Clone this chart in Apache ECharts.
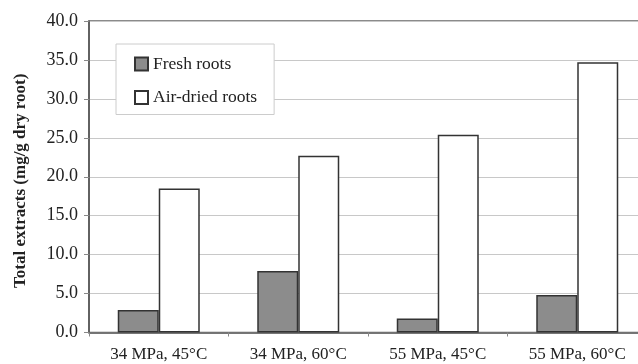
<!DOCTYPE html>
<html>
<head>
<meta charset="utf-8">
<script src="https://cdn.jsdelivr.net/npm/echarts@6/dist/echarts.min.js"></script>
<style>
html,body{margin:0;padding:0;background:#fff;}
#chart{width:638px;height:364px;}
</style>
</head>
<body>
<div id="chart"></div>
<script>
const categories = ['34 MPa, 45°C', '34 MPa, 60°C', '55 MPa, 45°C', '55 MPa, 60°C'];
const freshRoots = [2.9, 7.9, 1.8, 4.8];
const airDriedRoots = [18.5, 22.7, 25.4, 34.7];
const seriesNames = ['Fresh roots', 'Air-dried roots'];
const yAxisTitle = 'Total extracts (mg/g dry root)';

const font = '"Liberation Serif", "Times New Roman", serif';
const chart = echarts.init(document.getElementById('chart'), null, {renderer: 'canvas'});
chart.setOption({
  animation: false,
  backgroundColor: '#fff',
  textStyle: {fontFamily: font, color: '#222'},
  grid: {
    left: 89, top: 21, width: 558, height: 311.5,
    outerBoundsMode: 'none',
    containLabel: false,
    show: true, borderColor: '#666', borderWidth: 1.5, backgroundColor: 'transparent'
  },
  legend: {
    orient: 'vertical',
    left: 116, top: 44,
    padding: [11, 17, 8, 18],
    itemGap: 15.5,
    itemWidth: 13, itemHeight: 13,
    borderColor: '#ccc', borderWidth: 1,
    backgroundColor: '#fff',
    icon: 'rect',
    textStyle: {fontFamily: font, fontSize: 17.5, color: '#222'},
    data: seriesNames
  },
  xAxis: {
    type: 'category',
    data: categories,
    axisLine: {lineStyle: {color: '#555', width: 1.5}},
    axisTick: {show: true, length: 4, lineStyle: {color: '#888'}},
    axisLabel: {fontFamily: font, fontSize: 17, color: '#222', margin: 14}
  },
  yAxis: {
    type: 'value',
    min: 0, max: 40, interval: 5,
    name: yAxisTitle,
    nameLocation: 'middle',
    nameGap: 60,
    nameTextStyle: {fontFamily: font, fontSize: 17, fontWeight: 'bold', color: '#222', padding: [0, 8, 0, 0]},
    axisLine: {show: true, lineStyle: {color: '#555', width: 1.5}},
    axisTick: {show: true, length: 5, lineStyle: {color: '#888'}},
    axisLabel: {fontFamily: font, fontSize: 18, color: '#222', margin: 11,
      formatter: v => v.toFixed(1)},
    splitLine: {show: true, lineStyle: {color: '#c8c8c8', width: 1}}
  },
  series: [
    {
      name: seriesNames[0], type: 'bar', data: freshRoots,
      barWidth: 41, barGap: '0%',
      itemStyle: {color: '#8c8c8c', borderColor: '#333', borderWidth: 1.5}
    },
    {
      name: seriesNames[1], type: 'bar', data: airDriedRoots,
      barWidth: 41, barGap: '0%',
      itemStyle: {color: '#fff', borderColor: '#333', borderWidth: 1.5}
    }
  ]
});
</script>
</body>
</html>
